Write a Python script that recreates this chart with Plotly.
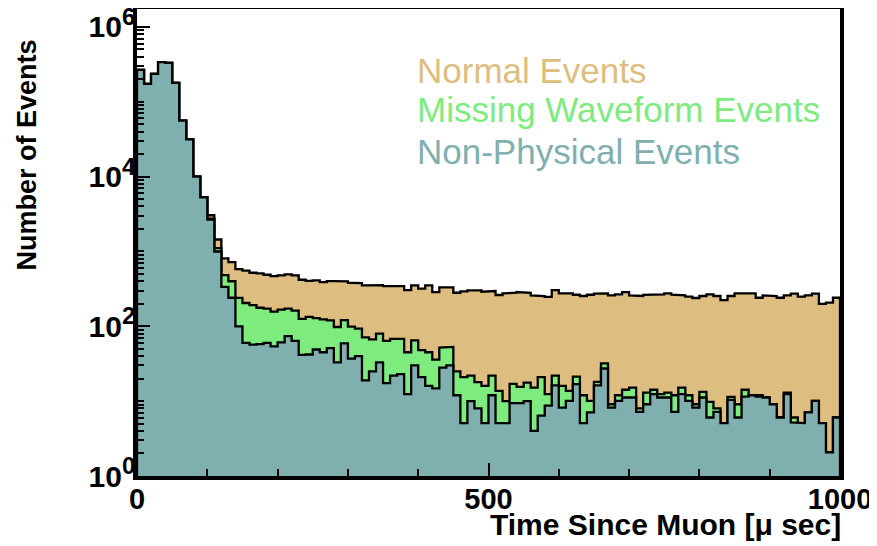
import numpy as np
import plotly.graph_objects as go

# ---------------- data (10 us bins, 0..1000 us) ----------------
bin_width = 10
n_bins = 100

# All events (Normal + Missing Waveform + Non-Physical)
total_events = [
    267000, 174000, 236000, 338000, 331000, 179000, 56000, 31500, 10000, 5300,
    3050, 1445, 810, 720, 580, 555, 520, 510, 489, 469,
    479, 493, 479, 419, 406, 410, 390, 402, 402, 398,
    382, 378, 352, 349, 356, 345, 352, 344, 305, 352,
    318, 352, 287, 331, 331, 281, 293, 302, 302, 290,
    296, 262, 275, 281, 287, 281, 259, 254, 248, 305,
    275, 275, 264, 254, 264, 273, 275, 259, 267, 287,
    259, 254, 264, 267, 267, 275, 264, 259, 249, 239,
    254, 267, 254, 224, 254, 275, 281, 275, 241, 259,
    254, 241, 259, 273, 249, 259, 273, 200, 207, 241,
]

# Missing Waveform + Non-Physical
missing_and_nonphysical = [
    267000, 174000, 236000, 338000, 331000, 179000, 56000, 31500, 10000, 5300,
    2750, 1110, 483, 400, 240, 205, 192, 177, 172, 157,
    167, 172, 162, 126, 134, 129, 124, 120, 98, 121,
    99, 93, 71, 67, 80, 64, 68, 68, 45, 65,
    48, 45, 36, 52, 53, 25, 21, 22, 18, 16,
    22, 13.7, 10, 17, 15.5, 17.7, 15.2, 21, 12.4, 22,
    16, 13.7, 21.3, 12, 10.1, 18.1, 32, 9.1, 12, 14.2,
    15.2, 8, 13, 14.2, 12.4, 13, 12, 15.2, 12, 9.1,
    13.3, 9.8, 8, 5.1, 11.4, 9.1, 14.2, 12, 12, 11.2,
    9.1, 6.05, 13, 6.05, 5.1, 7.1, 10.1, 5.1, 2.07, 6.05,
]

# Non-Physical only
nonphysical = [
    267000, 174000, 236000, 338000, 331000, 179000, 56000, 31500, 10000, 5300,
    2670, 1000, 336, 241, 100, 60, 57, 58, 60, 54,
    61, 74, 64, 41.5, 42, 49, 45, 51, 33, 59,
    37, 40, 19, 25, 33, 17.4, 22, 23, 12.4, 30,
    21, 16, 14.8, 28, 30, 12, 5.1, 10, 8, 5.1,
    12, 5.1, 5.1, 9.4, 9.4, 10, 4.0, 6.4, 8.7, 16.3,
    8.2, 10.1, 16.9, 5.1, 7.1, 16.3, 27.3, 8.2, 10.1, 11.2,
    11.2, 7.2, 9.1, 12.4, 11.2, 11.2, 7.2, 12.4, 10.1, 8.2,
    11.2, 6.05, 7.2, 5.1, 10.4, 6.05, 11.5, 12, 11.5, 11.2,
    9.1, 6.05, 12.4, 5.2, 5.1, 7.1, 10.1, 5.1, 2.07, 6.05,
]

series_names = ["Normal Events", "Missing Waveform Events", "Non-Physical Events"]
series_colors = ["#DEBE80", "#7EEB7E", "#7FAFAF"]

x_tick_vals = [0, 500, 1000]
x_tick_text = ["0", "500", "1000"]
y_tick_vals = [1, 1e2, 1e4, 1e6]
y_exponents = ["0", "2", "4", "6"]
y_tick_text = ['10<sup><span style="font-size:24px">%s</span></sup>' % e for e in y_exponents]

# ---------------- figure ----------------
edges = np.arange(n_bins + 1) * bin_width
y_floor = 1.0  # bottom of log axis


def step_outline(values):
    v = np.asarray(values, dtype=float)
    xs = np.concatenate([[edges[0]], np.repeat(edges, 2)[1:-1], [edges[-1]]])
    ys = np.concatenate([[y_floor], np.repeat(v, 2), [y_floor]])
    return xs, ys


fig = go.Figure()
for vals, name, col in zip([total_events, missing_and_nonphysical, nonphysical],
                           series_names, series_colors):
    xs, ys = step_outline(vals)
    fig.add_trace(go.Scatter(
        x=xs, y=ys, mode="lines", fill="toself", fillcolor=col,
        line=dict(color="black", width=2.3), name=name, showlegend=False,
        hoverinfo="skip",
    ))

font_family = "Liberation Sans, Arial, Helvetica, sans-serif"

minor_y = [k * 10 ** d for d in range(0, 7) for k in range(1, 10)
           if (k * 10 ** d) not in y_tick_vals and k * 10 ** d < 1.8e6]

fig.update_xaxes(
    range=[0, 1000], showgrid=False, zeroline=False, automargin=False,
    showline=True, linewidth=3.5, linecolor="black", mirror=True,
    tickmode="array", tickvals=x_tick_vals, ticktext=x_tick_text,
    ticks="inside", ticklen=13, tickwidth=2, tickcolor="black",
    ticklabelstandoff=-6, ticklabeloverflow="allow",
    minor=dict(ticks="inside", ticklen=7, tickwidth=2, tickcolor="black",
               tickmode="linear", tick0=0, dtick=100),
    tickfont=dict(family=font_family, size=29, color="black", weight="bold"),
)
fig.update_yaxes(
    type="log", range=[0, 6.24], showgrid=False, zeroline=False, automargin=False,
    showline=True, linewidth=3.5, linecolor="black", mirror=True,
    tickmode="array", tickvals=y_tick_vals, ticktext=y_tick_text,
    ticks="inside", ticklen=13, tickwidth=2, tickcolor="black",
    ticklabelstandoff=-8, ticklabeloverflow="allow",
    minor=dict(ticks="inside", ticklen=7, tickwidth=2, tickcolor="black",
               tickmode="array", tickvals=minor_y),
    tickfont=dict(family=font_family, size=30, color="black", weight="bold"),
)

annotations = [
    dict(text="Number of Events", xref="paper", yref="paper", x=-0.156, y=0.687,
         textangle=-90, showarrow=False, xanchor="center", yanchor="middle",
         font=dict(family=font_family, size=27, color="black", weight="bold")),
    dict(text="Time Since Muon [μ sec]", xref="paper", yref="paper", x=1.004, y=-0.103,
         showarrow=False, xanchor="right", yanchor="middle",
         font=dict(family=font_family, size=30, color="black", weight="bold")),
]
legend_y = [0.869, 0.784, 0.694]
for name, col, ly in zip(series_names, series_colors, legend_y):
    annotations.append(dict(
        text=name, xref="paper", yref="paper", x=0.396, y=ly,
        showarrow=False, xanchor="left", yanchor="middle",
        font=dict(family=font_family, size=35, color=col)))

# The page body has an 8px margin, so margins are chosen so the frame lands
# where the reference has it (left 137, right 840, top 9, bottom 476 px).
fig.update_layout(
    width=869, height=538,
    margin=dict(l=129, r=37, t=1, b=70),
    plot_bgcolor="white", paper_bgcolor="white",
    showlegend=False, annotations=annotations,
)

fig.write_html("out.html")
